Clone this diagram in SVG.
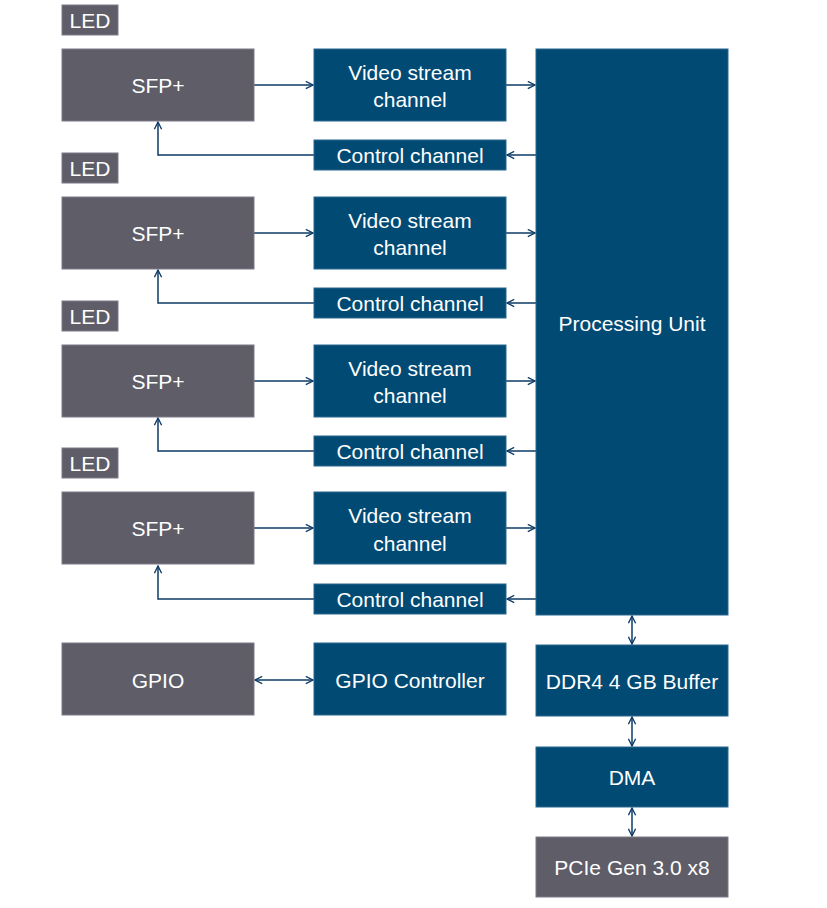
<svg xmlns="http://www.w3.org/2000/svg" width="827" height="908" viewBox="0 0 827 908">
<defs>
<style>
.g{fill:#5e5d68;stroke:#7c7b86;stroke-width:1}
.b{fill:#004a74;stroke:#2a6890;stroke-width:1}
text{font-family:"Liberation Sans",Arial,sans-serif;font-size:21px;fill:#ffffff;text-anchor:middle;dominant-baseline:central}
.c{fill:none;stroke:#0d3b66;stroke-width:1.5}
</style>
<marker id="ah" viewBox="0 0 10 10" refX="9" refY="5" markerWidth="9" markerHeight="9" markerUnits="userSpaceOnUse" orient="auto-start-reverse">
<path d="M1,1 L9,5 L1,9" fill="none" stroke="#0d3b66" stroke-width="1.5"/>
</marker>
</defs>
<rect width="827" height="908" fill="#ffffff"/>

<g id="connectors">
<line class="c" x1="254" y1="85" x2="313" y2="85" marker-end="url(#ah)"/>
<line class="c" x1="506" y1="85" x2="535" y2="85" marker-end="url(#ah)"/>
<line class="c" x1="536" y1="155" x2="507" y2="155" marker-end="url(#ah)"/>
<polyline class="c" points="314,155 158,155 158,122" marker-end="url(#ah)"/>

<line class="c" x1="254" y1="233" x2="313" y2="233" marker-end="url(#ah)"/>
<line class="c" x1="506" y1="233" x2="535" y2="233" marker-end="url(#ah)"/>
<line class="c" x1="536" y1="303" x2="507" y2="303" marker-end="url(#ah)"/>
<polyline class="c" points="314,303 158,303 158,270" marker-end="url(#ah)"/>

<line class="c" x1="254" y1="381" x2="313" y2="381" marker-end="url(#ah)"/>
<line class="c" x1="506" y1="381" x2="535" y2="381" marker-end="url(#ah)"/>
<line class="c" x1="536" y1="451" x2="507" y2="451" marker-end="url(#ah)"/>
<polyline class="c" points="314,451 158,451 158,418" marker-end="url(#ah)"/>

<line class="c" x1="254" y1="528" x2="313" y2="528" marker-end="url(#ah)"/>
<line class="c" x1="506" y1="528" x2="535" y2="528" marker-end="url(#ah)"/>
<line class="c" x1="536" y1="599" x2="507" y2="599" marker-end="url(#ah)"/>
<polyline class="c" points="314,599 158,599 158,566" marker-end="url(#ah)"/>

<line class="c" x1="255" y1="680" x2="313" y2="680" marker-start="url(#ah)" marker-end="url(#ah)"/>
<line class="c" x1="632" y1="616" x2="632" y2="644" marker-start="url(#ah)" marker-end="url(#ah)"/>
<line class="c" x1="632" y1="717" x2="632" y2="746" marker-start="url(#ah)" marker-end="url(#ah)"/>
<line class="c" x1="632" y1="808" x2="632" y2="836" marker-start="url(#ah)" marker-end="url(#ah)"/>
</g>

<g id="led1"><rect class="g" x="62" y="5" width="56" height="30"/><text x="90" y="20">LED</text></g>
<g id="sfp1"><rect class="g" x="62" y="49" width="192" height="72"/><text x="158" y="85">SFP+</text></g>
<g id="video1"><rect class="b" x="314" y="49" width="192" height="72"/><text x="410" y="72">Video stream</text><text x="410" y="99">channel</text></g>
<g id="control1"><rect class="b" x="314" y="140" width="192" height="30"/><text x="410" y="155">Control channel</text></g>

<g id="led2"><rect class="g" x="62" y="153" width="56" height="30"/><text x="90" y="168">LED</text></g>
<g id="sfp2"><rect class="g" x="62" y="197" width="192" height="72"/><text x="158" y="233">SFP+</text></g>
<g id="video2"><rect class="b" x="314" y="197" width="192" height="72"/><text x="410" y="220">Video stream</text><text x="410" y="247">channel</text></g>
<g id="control2"><rect class="b" x="314" y="288" width="192" height="30"/><text x="410" y="303">Control channel</text></g>

<g id="led3"><rect class="g" x="62" y="301" width="56" height="30"/><text x="90" y="316">LED</text></g>
<g id="sfp3"><rect class="g" x="62" y="345" width="192" height="72"/><text x="158" y="381">SFP+</text></g>
<g id="video3"><rect class="b" x="314" y="345" width="192" height="72"/><text x="410" y="368">Video stream</text><text x="410" y="395">channel</text></g>
<g id="control3"><rect class="b" x="314" y="436" width="192" height="30"/><text x="410" y="451">Control channel</text></g>

<g id="led4"><rect class="g" x="62" y="448" width="56" height="30"/><text x="90" y="463">LED</text></g>
<g id="sfp4"><rect class="g" x="62" y="492" width="192" height="72"/><text x="158" y="528">SFP+</text></g>
<g id="video4"><rect class="b" x="314" y="492" width="192" height="72"/><text x="410" y="515">Video stream</text><text x="410" y="543">channel</text></g>
<g id="control4"><rect class="b" x="314" y="584" width="192" height="30"/><text x="410" y="599">Control channel</text></g>

<g id="processing"><rect class="b" x="536" y="49" width="192" height="566"/><text x="632" y="323">Processing Unit</text></g>
<g id="gpio"><rect class="g" x="62" y="643" width="192" height="72"/><text x="158" y="680">GPIO</text></g>
<g id="gpioctrl"><rect class="b" x="314" y="643" width="192" height="72"/><text x="410" y="680">GPIO Controller</text></g>
<g id="ddr4"><rect class="b" x="536" y="645" width="192" height="71"/><text x="632" y="681">DDR4 4 GB Buffer</text></g>
<g id="dma"><rect class="b" x="536" y="747" width="192" height="60"/><text x="632" y="777">DMA</text></g>
<g id="pcie"><rect class="g" x="536" y="837" width="192" height="60"/><text x="632" y="867">PCIe Gen 3.0 x8</text></g>
</svg>
